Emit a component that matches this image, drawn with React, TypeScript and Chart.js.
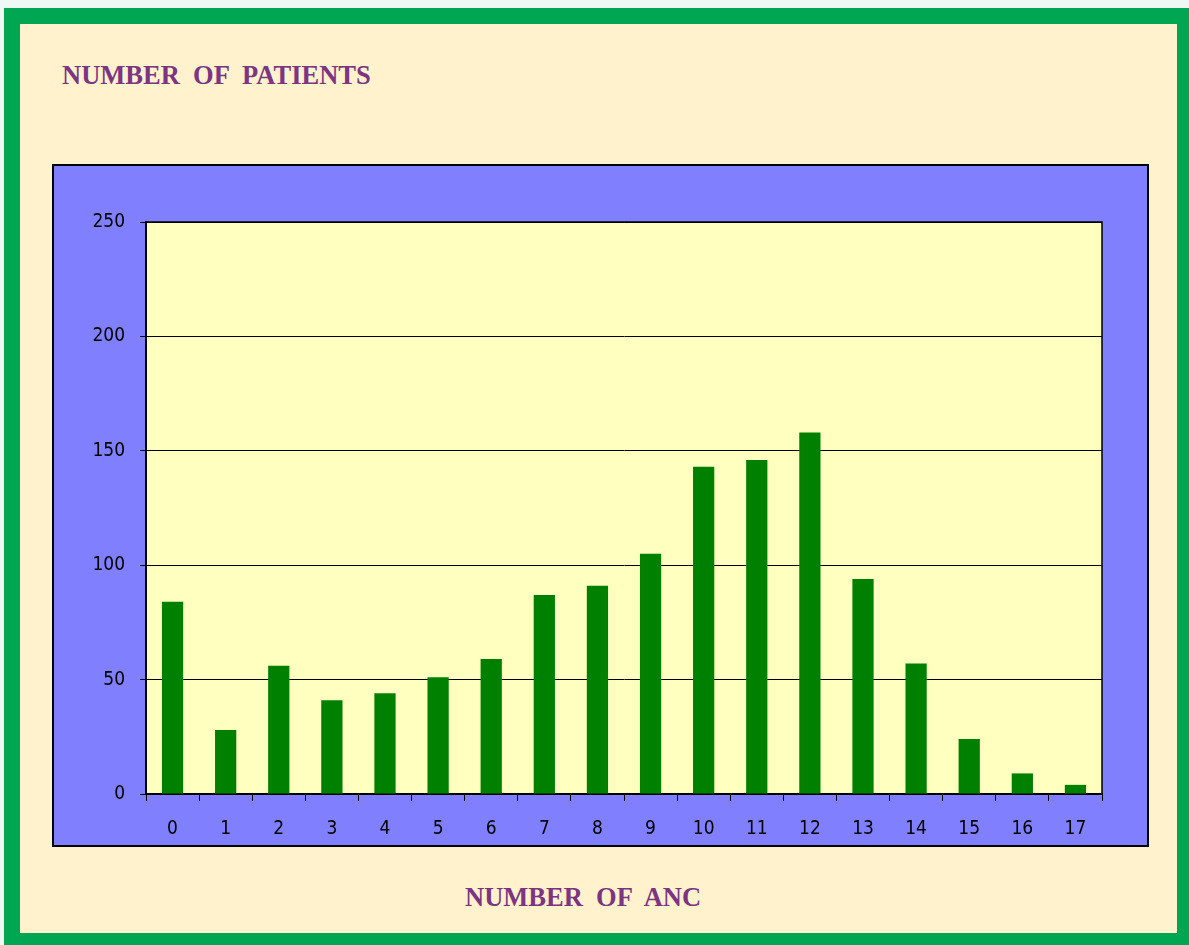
import React, { useEffect, useRef } from "react";
import { Chart, registerables } from "chart.js";

Chart.register(...registerables);

const categories = ["0", "1", "2", "3", "4", "5", "6", "7", "8", "9", "10", "11", "12", "13", "14", "15", "16", "17"];
const patients = [84, 28, 56, 41, 44, 51, 59, 87, 91, 105, 143, 146, 158, 94, 57, 24, 9, 4];
const yTitle = "NUMBER  OF  PATIENTS";
const xTitle = "NUMBER  OF  ANC";

const TICK_FONT = "'DejaVu Sans Condensed', 'DejaVu Sans', sans-serif";

const plotBg = {
  id: "plotBg",
  beforeDraw(chart: any) {
    const { ctx, chartArea: a } = chart;
    ctx.save();
    ctx.fillStyle = "#FFFFC0";
    ctx.fillRect(a.left, a.top, a.right - a.left, a.bottom - a.top);
    ctx.restore();
  },
  afterDraw(chart: any) {
    const { ctx, chartArea: a } = chart;
    ctx.save();
    ctx.strokeStyle = "#000";
    ctx.lineWidth = 1.5;
    ctx.beginPath();
    ctx.moveTo(a.left, a.top);
    ctx.lineTo(a.right, a.top);
    ctx.lineTo(a.right, a.bottom);
    ctx.stroke();
    ctx.restore();
  },
};

export default function App() {
  const ref = useRef<HTMLCanvasElement>(null);
  useEffect(() => {
    document.body.style.margin = "0";
    const chart = new Chart(ref.current!, {
      type: "bar",
      data: {
        labels: categories,
        datasets: [
          {
            data: patients,
            backgroundColor: "#008000",
            borderWidth: 0,
            categoryPercentage: 1,
            barPercentage: 0.4,
          },
        ],
      },
      options: {
        animation: false,
        responsive: false,
        devicePixelRatio: 1,
        layout: { padding: { left: 12, top: 56, right: 45, bottom: 11 } },
        plugins: { legend: { display: false }, tooltip: { enabled: false }, title: { display: false } },
        scales: {
          x: {
            offset: true,
            grid: {
              display: true,
              offset: true,
              drawOnChartArea: false,
              drawTicks: true,
              tickLength: 7,
              color: "#000",
              lineWidth: 1,
            },
            border: { display: true, color: "#000", width: 2 },
            ticks: { color: "#000", font: { family: TICK_FONT, size: 19 }, padding: 17, maxRotation: 0 },
            afterFit: (s: any) => {
              s.height = 40;
            },
          },
          y: {
            min: 0,
            max: 250,
            grid: { color: "#000", lineWidth: 1, tickLength: 6, drawTicks: true },
            border: { display: true, color: "#000", width: 2 },
            ticks: { stepSize: 50, color: "#000", font: { family: TICK_FONT, size: 19 }, padding: 15 },
            afterFit: (s: any) => {
              s.width = 80;
            },
          },
        },
      },
      plugins: [plotBg],
    });
    return () => chart.destroy();
  }, []);

  const titleStyle: React.CSSProperties = {
    position: "absolute",
    fontFamily: "'Liberation Serif', 'Times New Roman', serif",
    fontWeight: "bold",
    fontSize: 26.5,
    color: "#7B3583",
    whiteSpace: "pre",
    lineHeight: "30px",
  };

  return (
    <div style={{ position: "fixed", left: 0, top: 0, width: 1189, height: 945, background: "#EEF8F4", overflow: "hidden" }}>
      <div style={{ position: "absolute", left: 4, top: 8, width: 1200, height: 950, background: "#00A651" }} />
      <div style={{ position: "absolute", left: 20, top: 24, width: 1157, height: 909, background: "#FFF2CC" }} />
      <div style={{ ...titleStyle, left: 62, top: 60 }}>{yTitle}</div>
      <div
        style={{
          position: "absolute",
          left: 52,
          top: 164,
          width: 1097,
          height: 683,
          boxSizing: "border-box",
          border: "2px solid #000",
          background: "#8080FF",
        }}
      >
        <canvas ref={ref} width={1093} height={679} style={{ position: "absolute", left: 0, top: 0 }} />
      </div>
      <div style={{ ...titleStyle, left: 465, top: 882 }}>{xTitle}</div>
    </div>
  );
}
